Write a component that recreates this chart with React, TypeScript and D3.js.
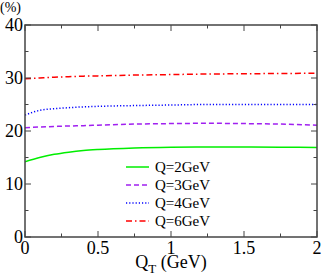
import React from "react";
import * as d3 from "d3";

const qt = [0, 0.1, 0.2, 0.3, 0.4, 0.5, 0.75, 1.0, 1.25, 1.5, 1.75, 2.0];
const q2 = [14.2, 15.0, 15.6, 16.0, 16.3, 16.5, 16.8, 16.95, 17.0, 17.0, 16.95, 16.9];
const q3 = [20.6, 20.75, 20.85, 20.95, 21.0, 21.1, 21.3, 21.4, 21.45, 21.4, 21.3, 21.1];
const q4 = [23.0, 23.9, 24.2, 24.4, 24.55, 24.65, 24.8, 24.9, 25.0, 25.0, 25.0, 25.0];
const q6 = [29.85, 30.0, 30.15, 30.25, 30.35, 30.4, 30.55, 30.65, 30.75, 30.8, 30.85, 30.9];
const seriesNames = ["Q=2GeV", "Q=3GeV", "Q=4GeV", "Q=6GeV"];
const xTicks = [0, 0.5, 1, 1.5, 2];
const xTickLabels = ["0", "0.5", "1", "1.5", "2"];
const xMinor = [0.25, 0.75, 1.25, 1.75];
const yTicks = [0, 10, 20, 30, 40];
const yMinor = [5, 15, 25, 35];

const W = 323, H = 278;
const L = 25, R = 317, T = 25, B = 237;
const FONT = "'Liberation Serif'";
const AX = "#444";
const txt = (size: number) => ({ fontFamily: FONT, fontSize: size + "px" });

export default function App() {
  const x = d3.scaleLinear().domain([0, 2]).range([L, R]);
  const y = d3.scaleLinear().domain([0, 40]).range([B, T]);
  const line = d3.line<[number, number]>().x(d => x(d[0])).y(d => y(d[1])).curve(d3.curveMonotoneX);
  const series = [
    { name: seriesNames[0], vals: q2, color: "#00ee00", dash: "none" },
    { name: seriesNames[1], vals: q3, color: "#a020f0", dash: "5,3" },
    { name: seriesNames[2], vals: q4, color: "#0000ff", dash: "1.2,2" },
    { name: seriesNames[3], vals: q6, color: "#ff0000", dash: "6,3,1.5,3" },
  ];
  const major = 6, minor = 3.5;
  return (
    <svg width={W} height={H} style={{ position: "absolute", left: 0, top: 0, background: "#fff" }}>
      <defs>
        <clipPath id="clip"><rect x={L} y={T} width={R - L} height={B - T} /></clipPath>
      </defs>
      <g clipPath="url(#clip)">
        {series.map(s => (
          <path key={s.name} d={line(qt.map((v, i) => [v, s.vals[i]] as [number, number])) || ""}
            fill="none" stroke={s.color} strokeWidth={1.5} strokeDasharray={s.dash} />
        ))}
      </g>
      {xTicks.map(t => (
        <g key={"xt" + t}>
          <line x1={x(t)} x2={x(t)} y1={B} y2={B - major} stroke={AX} strokeWidth={1} />
          <line x1={x(t)} x2={x(t)} y1={T} y2={T + major} stroke={AX} strokeWidth={1} />
        </g>
      ))}
      {xMinor.map(t => (
        <g key={"xm" + t}>
          <line x1={x(t)} x2={x(t)} y1={B} y2={B - minor} stroke={AX} strokeWidth={1} />
          <line x1={x(t)} x2={x(t)} y1={T} y2={T + minor} stroke={AX} strokeWidth={1} />
        </g>
      ))}
      {yTicks.map(t => (
        <g key={"yt" + t}>
          <line x1={L} x2={L + major} y1={y(t)} y2={y(t)} stroke={AX} strokeWidth={1} />
          <line x1={R} x2={R - major} y1={y(t)} y2={y(t)} stroke={AX} strokeWidth={1} />
        </g>
      ))}
      {yMinor.map(t => (
        <g key={"ym" + t}>
          <line x1={L} x2={L + minor} y1={y(t)} y2={y(t)} stroke={AX} strokeWidth={1} />
          <line x1={R} x2={R - minor} y1={y(t)} y2={y(t)} stroke={AX} strokeWidth={1} />
        </g>
      ))}
      <rect x={L} y={T} width={R - L} height={B - T} fill="none" stroke={AX} strokeWidth={1.5} />
      {xTicks.map((t, i) => (
        <text key={"xl" + t} x={x(t)} y={254} textAnchor="middle" style={txt(18)} fill="#000">{xTickLabels[i]}</text>
      ))}
      {yTicks.map(t => (
        <text key={"yl" + t} x={23} y={y(t) + 6} textAnchor="end" style={txt(18)} fill="#000">{t}</text>
      ))}
      <text x={0} y={12} style={txt(14)} fill="#000">(%)</text>
      <text x={171} y={268} textAnchor="middle" style={txt(18)} fill="#000">
        Q<tspan style={{ fontSize: "13px" }} dy={5}>T</tspan><tspan dy={-5}> (GeV)</tspan>
      </text>
      {series.map((s, i) => (
        <g key={"lg" + s.name} transform={`translate(0, ${167 + i * 18})`}>
          <line x1={126} x2={149} y1={0} y2={0} stroke={s.color} strokeWidth={1.5} strokeDasharray={s.dash} />
          <text x={155} y={5} style={txt(15)} fill="#000">{s.name}</text>
        </g>
      ))}
    </svg>
  );
}
